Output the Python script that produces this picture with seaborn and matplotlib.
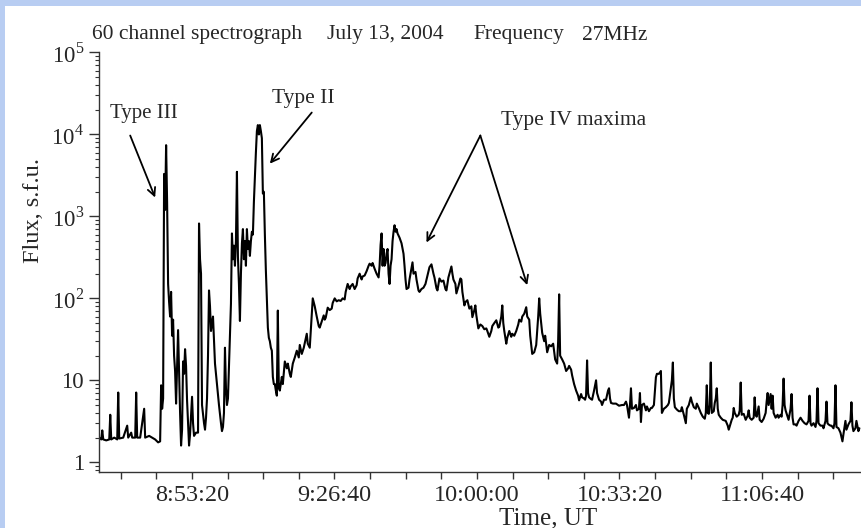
import matplotlib
matplotlib.use('Agg')
import matplotlib.pyplot as plt
import seaborn as sns
from matplotlib.patches import Rectangle
from matplotlib.ticker import MultipleLocator, LogLocator, NullFormatter

# 27 MHz flux, 13 July 2004
# time in seconds since 00:00 UT, flux in s.f.u.
time_s = [
    30700, 30728, 30742, 30756, 30798, 30840, 30854, 30868, 30910, 30952,
    30966, 30980, 31036, 31092, 31106, 31148, 31162, 31204, 31218, 31232,
    31274, 31330, 31344, 31400, 31442, 31484, 31526, 31554,
    31568, 31582, 31596, 31610, 31624, 31638, 31652, 31666, 31680, 31694,
    31708, 31722, 31736, 31750, 31764, 31778, 31792, 31806, 31820, 31834,
    31848, 31862, 31876, 31890, 31904, 31918, 31932, 31946, 31960, 31974,
    32002, 32016, 32030, 32058, 32086,
    32100, 32114, 32128, 32142, 32170, 32184, 32198, 32212, 32226, 32240,
    32254, 32268, 32282, 32296, 32310, 32324, 32352, 32380, 32408, 32422,
    32436, 32450, 32464, 32478, 32492, 32506, 32520, 32534, 32548, 32562,
    32576, 32590, 32604, 32618, 32632, 32646, 32660, 32674, 32688, 32702,
    32716, 32730, 32744, 32758, 32772, 32786, 32800, 32814, 32828, 32842,
    32856, 32870, 32884, 32898, 32912, 32926, 32940, 32954, 32968, 32982,
    32996, 33010, 33024, 33038, 33052, 33066, 33080, 33094, 33108, 33122,
    33136, 33150, 33164, 33178, 33192, 33206, 33220, 33234, 33262, 33276,
    33304, 33332, 33346, 33374, 33388, 33416, 33444, 33472, 33500, 33514,
    33542, 33570, 33612, 33626, 33654, 33668, 33696, 33724, 33752, 33780,
    33794, 33822, 33850, 33864, 33878, 33906, 33934, 33962, 33976, 34004,
    34032, 34060, 34088, 34116, 34144, 34158, 34186, 34214, 34228, 34256,
    34284, 34312, 34326, 34354, 34382, 34396, 34424, 34452, 34480, 34494,
    34522, 34536, 34564, 34592, 34620, 34634, 34648, 34662, 34676, 34690,
    34704, 34718, 34732, 34746, 34760, 34774, 34788, 34802, 34816, 34830,
    34844, 34858, 34872, 34886, 34914, 34942, 34970, 34984, 34998, 35012,
    35040, 35054, 35068, 35096, 35110, 35138, 35152, 35180, 35194, 35222,
    35250, 35278, 35306, 35334, 35362, 35390, 35404, 35432, 35446, 35474,
    35502, 35530, 35558, 35572, 35600, 35628, 35642, 35656, 35670, 35698,
    35712, 35740, 35768, 35782, 35796, 35824, 35838, 35866, 35894, 35922,
    35936, 35964, 35978, 35992, 36020, 36048, 36076, 36104, 36132, 36146,
    36174, 36202, 36216, 36244, 36272, 36300, 36314, 36342, 36356, 36370,
    36384, 36412, 36426, 36454, 36482, 36496, 36524, 36552, 36580, 36594,
    36622, 36636, 36664, 36692, 36706, 36734, 36748, 36776, 36804, 36832,
    36860, 36874, 36888, 36916, 36944, 36958, 36986, 37014, 37042, 37070,
    37098, 37126, 37140, 37154, 37168, 37182, 37196, 37224, 37252, 37280,
    37294, 37322, 37336, 37364, 37392, 37420, 37434, 37462, 37476, 37504,
    37518, 37532, 37546, 37560, 37574, 37602, 37616, 37644, 37672, 37686,
    37714, 37742, 37756, 37784, 37812, 37840, 37854, 37868, 37882, 37910,
    37952, 37994, 38036, 38064, 38092, 38106, 38134, 38148, 38162, 38176,
    38204, 38232, 38246, 38274, 38288, 38302, 38316, 38344, 38372, 38386,
    38414, 38442, 38456, 38484, 38512, 38526, 38554, 38582, 38596, 38624,
    38652, 38680, 38694, 38722, 38736, 38750, 38764, 38778, 38806, 38834,
    38862, 38876, 38904, 38932, 38946, 38974, 39002, 39016, 39044, 39072,
    39086, 39114, 39142, 39170, 39198, 39212, 39226, 39240, 39254, 39268,
    39282, 39296, 39324, 39338, 39352, 39366, 39380, 39394, 39422, 39450,
    39492, 39520, 39534, 39562, 39576, 39590, 39604, 39618, 39646, 39674,
    39688, 39702, 39716, 39744, 39772, 39800, 39814, 39828, 39856, 39884,
    39898, 39912, 39926, 39954, 39968, 39996, 40024, 40052, 40066, 40080,
    40094, 40122, 40136, 40150, 40164, 40192, 40220, 40234, 40262, 40276,
    40290, 40304, 40318, 40332, 40360, 40374, 40402, 40416, 40430, 40444,
    40472, 40486, 40514, 40542, 40570, 40598, 40626, 40654, 40668, 40682,
    40696, 40724, 40752, 40766, 40780, 40794, 40822, 40850, 40864, 40892,
    40906, 40920, 40934, 40962, 40976, 41004, 41018, 41032, 41046, 41074,
    41102, 41130, 41144, 41172, 41186, 41214, 41242, 41256, 41270, 41284,
    41312, 41326, 41354, 41368,
]
flux_sfu = [
    2.0, 1.9, 2.45, 1.9, 1.85, 1.9, 3.8, 1.9, 2.0, 1.9,
    7.1, 1.95, 2.0, 2.8, 2.0, 2.3, 2.0, 2.0, 7.1, 2.0,
    2.0, 4.5, 2.0, 2.1, 2.0, 1.9, 1.75, 1.8,
    8.7, 4.5, 6.0, 3300, 1200, 7400, 1500, 150, 90, 60,
    120, 35, 55, 20, 13, 5.2, 14, 41, 12, 4,
    1.6, 2.5, 17, 12, 24, 15, 5.7, 3, 1.6, 2.2,
    6.3, 3, 2.1, 2.3, 2.3,
    820, 300, 200, 5, 3, 2.5, 3.5, 6, 20, 125,
    80, 40, 50, 60, 30, 16, 9, 5, 3, 2.4,
    2.7, 4, 25, 8, 5, 6, 15, 40, 86, 620,
    300, 440, 250, 500, 3500, 320, 150, 53, 200, 470,
    700, 300, 500, 250, 700, 400, 500, 330, 500, 650,
    600, 1500, 3000, 6000, 11000, 13000, 10000, 13000, 11000, 9000,
    1900, 2000, 600, 220, 100, 44, 33, 30, 25, 23,
    11, 9, 9, 7.5, 6.5, 71, 8, 7.5, 11, 9,
    17, 14, 16, 12, 11, 16, 19, 23, 19, 27,
    21, 25, 37, 28, 25, 40, 100, 80, 60, 46,
    44, 52, 62, 55, 58, 77, 72, 75, 88, 100,
    92, 95, 93, 100, 97, 120, 150, 130, 140, 150,
    130, 145, 175, 200, 170, 185, 190, 215, 250, 265,
    250, 270, 230, 200, 180, 250, 450, 620, 250, 400,
    250, 270, 350, 400, 200, 150, 250, 300, 500, 650,
    780, 650, 700, 620, 550, 470, 350, 250, 170, 130,
    135, 170, 200, 275, 200, 210, 170, 125, 120, 130,
    135, 150, 190, 240, 260, 200, 180, 133, 125, 175,
    160, 165, 130, 125, 180, 220, 245, 200, 170, 150,
    115, 140, 175, 170, 120, 82, 90, 95, 75, 80,
    59, 72, 82, 62, 43, 48, 46, 42, 43, 40,
    34, 40, 46, 50, 54, 44, 45, 60, 82, 50,
    40, 28, 33, 40, 34, 37, 35, 40, 48, 55,
    52, 60, 65, 78, 60, 55, 35, 21, 22, 27,
    60, 100, 65, 38, 30, 35, 22, 27, 26, 28,
    18, 16, 30, 112, 20, 19, 18, 16, 13, 14,
    15, 13.5, 11.5, 9, 7.5, 6.5, 5.7, 6.8, 6.2, 6,
    5.8, 6.5, 17.5, 7, 6.2, 5.9, 5.8, 7.5, 10, 7,
    5.8, 5.5, 5, 5.8, 5.8, 7.5, 8, 6, 5.3, 5.2,
    5.2, 4.9, 5, 5, 5.5, 5, 3.5, 5, 8, 4.5,
    4.6, 5, 4.3, 4.5, 7, 3.1, 5, 5.2, 4.3, 4.8,
    4.2, 4.6, 4.6, 5, 10.9, 12, 12, 13, 4, 4.5,
    4.7, 5, 5.3, 8, 10, 16.5, 6, 4.7, 4.4, 4.2,
    4.2, 4.7, 3.8, 3, 4.5, 5, 6.2, 5.5, 4.7, 4.5,
    5.2, 4.6, 4, 3.6, 3.4, 4, 8.7, 4, 3.9, 5,
    16.5, 4, 4.2, 5.3, 6, 8, 4.5, 3.8, 3.5, 3.3,
    3.2, 2.8, 2.5, 3, 3.3, 3.5, 4.6, 4, 3.6, 3.8,
    4.3, 9.4, 3.8, 3.9, 3.3, 3.7, 4.3, 3.5, 3.3, 3.5,
    6.2, 3.8, 3.6, 4.8, 3.3, 3.1, 3.4, 4, 5.5, 7,
    5, 6.8, 4.5, 6.5, 4, 3.5, 3.8, 3.5, 3.8, 3.6,
    5, 10.5, 5, 4.3, 3.6, 3.3, 4.5, 6.8, 3.5, 2.9,
    2.9, 2.8, 3.2, 3.5, 3.2, 3, 2.9, 3.2, 6.5, 3,
    2.8, 3, 2.7, 3.2, 8, 3, 2.8, 2.8, 2.6, 3.2,
    5.5, 3, 2.9, 2.8, 2.8, 2.6, 3, 8.7, 2.7, 2.6,
    2.3, 1.8, 2.2, 3.2, 2.5, 2.9, 3.2, 5.4, 2.8, 2.4,
    2.6, 3.2, 2.4, 2.6,
]

tick_secs = [32000, 34000, 36000, 38000, 40000]
tick_labels = ['8:53:20', '9:26:40', '10:00:00', '10:33:20', '11:06:40']
decades = [1, 10, 1e2, 1e3, 1e4, 1e5]
decade_labels = ['1', '10', '$10^{2}$', '$10^{3}$', '$10^{4}$', '$10^{5}$']

sns.set_style('ticks')
plt.rcParams['font.family'] = ['Liberation Serif', 'DejaVu Serif']
plt.rcParams['mathtext.fontset'] = 'custom'
plt.rcParams['mathtext.rm'] = 'Liberation Serif'

fig = plt.figure(figsize=(8.61, 5.28), dpi=100, facecolor='#b8cdf2')
# white slide panel over the bluish background
fig.add_artist(Rectangle((5 / 861, 0), 1, 522 / 528, transform=fig.transFigure,
                         facecolor='white', edgecolor='none', zorder=-1))
ax = fig.add_axes([0.1153, 0.107, 0.8855, 0.7936])

sns.lineplot(x=time_s, y=flux_sfu, color='black', linewidth=1.5,
             estimator=None, ax=ax)
ax.set_yscale('log')
ax.set_xlim(30700, 41400)
ax.set_ylim(0.772, 1e5)

ax.set_xticks(tick_secs, tick_labels)
ax.xaxis.set_minor_locator(MultipleLocator(500))
ax.set_yticks(decades, decade_labels)
ax.yaxis.set_minor_locator(LogLocator(base=10, subs=range(2, 10)))
ax.yaxis.set_minor_formatter(NullFormatter())

ax.tick_params(axis='x', which='both', direction='out', length=5, width=1,
               pad=5, labelsize=17.5, color='#333333')
ax.tick_params(axis='y', which='major', direction='out', length=7, width=1,
               pad=4, labelsize=16.5, color='#333333')
ax.tick_params(axis='y', which='minor', direction='out', length=3, width=0.8,
               color='#333333')
sns.despine(ax=ax)
for side in ['left', 'bottom']:
    ax.spines[side].set_color('#333333')
    ax.spines[side].set_linewidth(1)

ax.set_xlabel('Time, UT', fontsize=18)
ax.xaxis.set_label_coords(0.5885, -0.085)
ax.set_ylabel('Flux, s.f.u.', fontsize=17.5)
ax.yaxis.set_label_coords(-0.072, 0.624)

# header line, all pieces on one baseline
for xpix, txt in [(92, '60 channel spectrograph'), (327, 'July 13, 2004'),
                  (473, 'Frequency'), (582, '27MHz')]:
    fig.text(xpix / 861, 1 - 39.5 / 528, txt, fontsize=15.5,
             va='baseline', ha='left')

arrow = dict(arrowstyle='->', color='black', lw=1.3, shrinkA=0, shrinkB=0,
             mutation_scale=14)
ax.text(30854, 18000, 'Type III', fontsize=15, va='center', ha='left')
ax.annotate('', xy=(31484, 1700), xytext=(31134, 9700), arrowprops=arrow)
ax.text(33122, 27500, 'Type II', fontsize=15.5, va='center', ha='left')
ax.annotate('', xy=(33094, 4400), xytext=(33682, 18500), arrowprops=arrow)
ax.text(36342, 14800, 'Type IV maxima', fontsize=15.5, va='center', ha='left')
ax.annotate('', xy=(35292, 480), xytext=(36048, 9700), arrowprops=arrow)
ax.annotate('', xy=(36706, 145), xytext=(36048, 9700), arrowprops=arrow)

fig.savefig('out.png', dpi=100)
